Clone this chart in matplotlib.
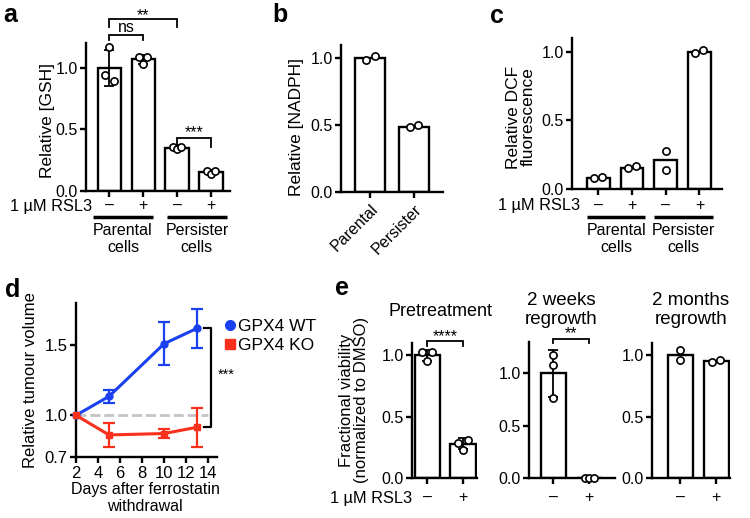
import matplotlib
matplotlib.use("Agg")
import matplotlib.pyplot as plt
from matplotlib.transforms import offset_copy
from matplotlib.lines import Line2D
import numpy as np

plt.rcParams["font.family"] = ["Liberation Sans", "DejaVu Sans"]
plt.rcParams["axes.linewidth"] = 1.7
plt.rcParams["xtick.major.width"] = 1.7
plt.rcParams["ytick.major.width"] = 1.7
plt.rcParams["xtick.major.size"] = 4.5
plt.rcParams["ytick.major.size"] = 4.5
plt.rcParams["xtick.labelsize"] = 11.5
plt.rcParams["ytick.labelsize"] = 11.5
plt.rcParams["ytick.major.pad"] = 1.5

W, H = 750, 518

# ---- data ----
rsl3 = ["–", "+", "–", "+"]
rsl3_label = "1 µM RSL3"
groups = ["Parental\ncells", "Persister\ncells"]

gsh_mean = [1.00, 1.07, 0.35, 0.15]
gsh_sd = [0.15, 0.035, 0.02, 0.015]
gsh_pts = [[0.94, 1.17, 0.89], [1.09, 1.03, 1.09],
           [0.36, 0.34, 0.36], [0.16, 0.14, 0.16]]

nadph_cells = ["Parental", "Persister"]
nadph_mean = [1.00, 0.49]
nadph_pts = [[0.99, 1.02], [0.49, 0.50]]

dcf_mean = [0.08, 0.15, 0.21, 1.00]
dcf_pts = [[0.08, 0.085], [0.15, 0.17], [0.28, 0.14], [0.99, 1.01]]

days = [2, 5, 10, 13]
wt_mean = [1.00, 1.135, 1.51, 1.62]
wt_err = [0.0, 0.045, 0.155, 0.14]
ko_mean = [1.00, 0.86, 0.87, 0.915]
ko_err = [0.0, 0.085, 0.035, 0.14]

pre_mean = [1.00, 0.28]
pre_sd = [0.045, 0.045]
pre_pts = [[1.03, 0.95, 1.03], [0.29, 0.23, 0.31]]
wk_mean = [1.00, 0.0]
wk_sd = [0.22, 0.0]
wk_pts = [[1.18, 1.08, 0.77], [0.0, 0.0, 0.0]]
mo_mean = [1.00, 0.95]
mo_pts = [[1.04, 0.965], [0.945, 0.96]]

blue = "#1a40f0"
red = "#f8301c"

fig = plt.figure(figsize=(W / 100, H / 100), dpi=100)


def px_axes(l, t, r, b):
    return fig.add_axes([l / W, 1 - b / H, (r - l) / W, (b - t) / H])


def px_text(x, y, s, **kw):
    return fig.text(x / W, 1 - y / H, s, **kw)


def place_label(axis, x, y):
    axis.set_label_coords(x / W, 1 - y / H, transform=fig.transFigure)
    axis.label.set_verticalalignment("center")


def style(ax):
    ax.spines["top"].set_visible(False)
    ax.spines["right"].set_visible(False)
    ax.set_facecolor("none")


def bars(ax, means, pts, sd=None, width=0.68, spread=0.12):
    x = np.arange(len(means))
    ax.bar(x, means, width, color="white", edgecolor="black", linewidth=1.7, zorder=2)
    if sd is not None:
        ax.errorbar(x, means, yerr=sd, fmt="none", ecolor="black", elinewidth=1.3,
                    capsize=3.5, capthick=1.3, zorder=3)
    for i, p in enumerate(pts):
        s = spread[i] if np.iterable(spread) else spread
        off = np.linspace(-s, s, len(p))
        ax.plot(x[i] + off, p, "o", mfc="white", mec="black", ms=5.2, mew=1.2,
                zorder=4, clip_on=False)
    return x


def bracket(ax, x0, x1, y, drop, txt, dy=1):
    ax.plot([x0, x0, x1, x1], [y - drop, y, y, y - drop], color="black", lw=1.3,
            clip_on=False, solid_joinstyle="miter")
    ax.annotate(txt, xy=((x0 + x1) / 2, y), xytext=(0, dy), textcoords="offset pixels",
                ha="center", va="baseline", fontsize=11.5, annotation_clip=False)


def treatment_row(ax, x, pad, base_off, lab_dx):
    ax.set_xticks(x, rsl3[:len(x)], va="baseline")
    ax.tick_params(axis="x", pad=pad)
    if lab_dx is not None:
        ax.annotate(rsl3_label, xy=(x[0], 0), xycoords=("data", "axes fraction"),
                    xytext=(lab_dx, -base_off), textcoords="offset pixels",
                    ha="right", va="baseline", fontsize=11.8, annotation_clip=False)


def group_lines(ax, spans, line_off, text_off):
    tr = offset_copy(ax.get_xaxis_transform(), fig=fig, x=0, y=-line_off, units="dots")
    for (x0, x1), g in zip(spans, groups):
        ax.plot([x0, x1], [0, 0], color="black", lw=2.5, transform=tr, clip_on=False,
                solid_capstyle="butt")
        ax.annotate(g, xy=((x0 + x1) / 2, 0), xycoords=("data", "axes fraction"),
                    xytext=(0, -text_off), textcoords="offset pixels", ha="center",
                    va="top", fontsize=11.5, linespacing=1.15, annotation_clip=False)


# ---- a: GSH ----
ax = px_axes(86, 43.4, 230, 190.7)
style(ax)
x = bars(ax, gsh_mean, gsh_pts, gsh_sd, spread=[0.13, 0.13, 0.13, 0.13])
ax.set_xlim(-0.68, 3.56)
ax.set_ylim(0, 1.2)
ax.set_yticks([0, 0.5, 1.0], ["0.0", "0.5", "1.0"])
treatment_row(ax, x, 9.2, 20, -17)
group_lines(ax, [(-0.47, 1.29), (1.7, 3.47)], 26, 32)
bracket(ax, 0, 2, 1.40, 0.067, "**", dy=-1)
bracket(ax, 0, 1, 1.27, 0.045, "ns", dy=3)
bracket(ax, 2, 3, 0.426, 0.068, "***", dy=1)
ax.set_ylabel("Relative [GSH]", fontsize=12.5)
place_label(ax.yaxis, 47.5, 121)

# ---- b: NADPH ----
ax = px_axes(341, 45, 443, 192)
style(ax)
x = bars(ax, nadph_mean, nadph_pts, spread=0.1)
ax.set_xlim(-0.67, 1.66)
ax.set_ylim(0, 1.1)
ax.set_yticks([0, 0.5, 1.0], ["0.0", "0.5", "1.0"])
ax.set_xticks(x, nadph_cells, rotation=45, ha="right", va="top", rotation_mode="anchor")
ax.tick_params(axis="x", pad=2.5)
ax.set_ylabel("Relative [NADPH]", fontsize=12.5)
place_label(ax.yaxis, 297, 127)

# ---- c: DCF ----
ax = px_axes(572, 38, 722, 189)
style(ax)
x = bars(ax, dcf_mean, dcf_pts, spread=[0.12, 0.12, 0.0, 0.12])
ax.set_xlim(-0.78, 3.67)
ax.set_ylim(0, 1.1)
ax.set_yticks([0, 0.5, 1.0], ["0.0", "0.5", "1.0"])
treatment_row(ax, x, 10.3, 21, -18)
group_lines(ax, [(-0.33, 1.39), (1.66, 3.41)], 28, 34)
ax.set_ylabel("Relative DCF\nfluorescence", fontsize=12.5, linespacing=1.0)
place_label(ax.yaxis, 521, 117)

# ---- d: tumour volume ----
ax = px_axes(76, 303, 217, 457.4)
style(ax)
ax.plot([days[0], 14], [1.0, 1.0], color="#c4c4c4", lw=2, dashes=(3.6, 1.4), zorder=1)
d = np.array(days)
for mean, err, col, mk, ms in [(wt_mean, wt_err, blue, "o", 5), (ko_mean, ko_err, red, "s", 4.4)]:
    mean = np.array(mean)
    err = np.array(err)
    ax.plot(d, mean, color=col, lw=2.2, marker=mk, ms=ms, zorder=3, clip_on=False)
    has = err > 0
    ax.errorbar(d[has], mean[has], yerr=err[has], fmt="none", ecolor=col, elinewidth=1.6,
                capsize=4, capthick=1.6, zorder=3)
ax.set_xlim(2, 14.8)
ax.set_ylim(0.7, 1.8)
ax.set_xticks([2, 4, 6, 8, 10, 12, 14])
ax.set_yticks([0.7, 1.0, 1.5])
ax.tick_params(axis="x", pad=2)
ax.tick_params(labelsize=12)
ax.plot([13.6, 14.3, 14.3, 13.6], [wt_mean[-1], wt_mean[-1], ko_mean[-1], ko_mean[-1]],
        color="black", lw=1.6, clip_on=False)
ax.text(15.6, 1.29, "***", ha="center", va="center", fontsize=10.5)
handles = [Line2D([], [], color=blue, marker="o", ls="none", ms=7),
           Line2D([], [], color=red, marker="s", ls="none", ms=6.5)]
ax.legend(handles, ["GPX4 WT", "GPX4 KO"], loc="center left",
          bbox_to_anchor=(224 / W, 1 - 336 / H), bbox_transform=fig.transFigure,
          frameon=False, fontsize=12.5, handlelength=0.7, handletextpad=0.1,
          labelspacing=0.2, borderpad=0, borderaxespad=0)
ax.set_ylabel("Relative tumour volume", fontsize=12)
place_label(ax.yaxis, 31, 380)
ax.set_xlabel("Days after ferrostatin\nwithdrawal", fontsize=11.5, linespacing=1.1)
place_label(ax.xaxis, 145, 498)

# ---- e: viability ----
ax = px_axes(412, 343, 477, 478.3)
style(ax)
x = bars(ax, pre_mean, pre_pts, pre_sd, width=0.7, spread=[0.13, 0.13])
ax.set_xlim(-0.42, 1.39)
ax.set_ylim(0, 1.1)
ax.set_yticks([0, 0.5, 1.0], ["0.0", "0.5", "1.0"])
treatment_row(ax, x, 12.3, 24.7, -15)
bracket(ax, 0, 1, 1.118, 0.04, "****", dy=0)
ax.set_ylabel("Fractional viability\n(normalized to DMSO)", fontsize=12, linespacing=1.05)
place_label(ax.yaxis, 354, 400)
px_text(440, 311, "Pretreatment", ha="center", va="center", fontsize=13)

ax = px_axes(529, 342, 615, 478.3)
style(ax)
x = bars(ax, wk_mean, wk_pts, wk_sd, width=0.7, spread=[0.0, 0.13])
ax.set_xlim(-0.67, 1.71)
ax.set_ylim(0, 1.3)
ax.set_yticks([0, 0.5, 1.0], ["0.0", "0.5", "1.0"])
treatment_row(ax, x, 12.3, 24.7, None)
bracket(ax, 0, 1, 1.333, 0.045, "**", dy=0)
px_text(561, 310, "2 weeks\nregrowth", ha="center", va="center", fontsize=13.5, linespacing=1.15)

ax = px_axes(652, 343, 730, 478.3)
style(ax)
x = bars(ax, mo_mean, mo_pts, width=0.7, spread=[0.0, 0.1])
ax.set_xlim(-0.79, 1.39)
ax.set_ylim(0, 1.1)
ax.set_yticks([0, 0.5, 1.0], ["0.0", "0.5", "1.0"])
treatment_row(ax, x, 12.3, 24.7, None)
px_text(691, 310, "2 months\nregrowth", ha="center", va="center", fontsize=13.5, linespacing=1.15)

# ---- panel letters ----
for lx, ly, s in [(3, 22, "a"), (272, 21.7, "b"), (490, 23, "c"), (5, 296.7, "d"), (335, 295, "e")]:
    px_text(lx, ly, s, fontsize=18, fontweight="bold", ha="left", va="baseline")

fig.savefig("out.png", dpi=100)
